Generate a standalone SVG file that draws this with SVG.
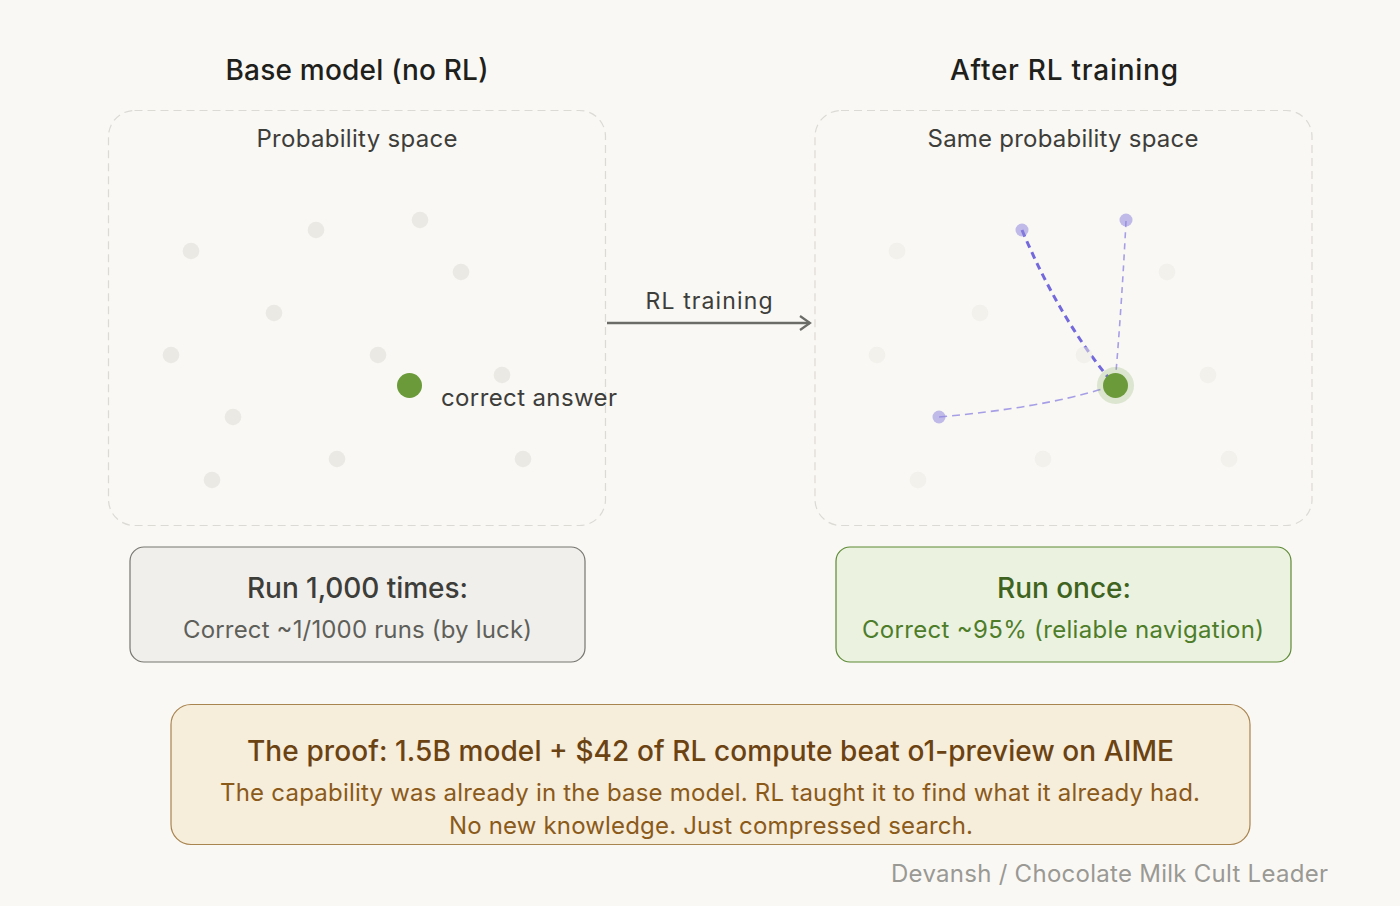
<svg xmlns="http://www.w3.org/2000/svg" width="1400" height="906" viewBox="0 0 1400 906">
<defs>
<style>
text{font-family:"Inter","Liberation Sans","Noto Sans",sans-serif;}
.title{font-size:28px;font-weight:500;fill:#1f1f1c;text-anchor:middle;}
.sub{font-size:24px;fill:#3d3d3a;text-anchor:middle;}
.panel{fill:none;stroke:#dcdad4;stroke-width:1.2;stroke-dasharray:8 5;}
.dot{fill:#ebe9e4;}
.dotf{fill:#ebe9e4;opacity:0.5;}
.pdot{fill:#8f86dc;opacity:0.55;}
</style>
<marker id="arr" viewBox="0 0 14 16" refX="12" refY="8" markerWidth="14" markerHeight="16" markerUnits="userSpaceOnUse" orient="auto">
<path d="M2,1 L12,8 L2,15" fill="none" stroke="#6b6b68" stroke-width="2.2"/>
</marker>
<marker id="parr" viewBox="0 0 10 10" refX="8" refY="5" markerWidth="9" markerHeight="9" markerUnits="userSpaceOnUse" orient="auto">
<path d="M1,1 L8,5 L1,9" fill="none" stroke="#7369dc" stroke-width="1.6"/>
</marker>
</defs>
<rect width="1400" height="906" fill="#f9f8f4"/>

<g id="left-panel">
<text class="title" x="357" y="80" textLength="263">Base model (no RL)</text>
<rect class="panel" x="108.5" y="110.5" width="497" height="415" rx="26"/>
<text class="sub" x="357" y="147" textLength="201">Probability space</text>
<circle class="dot" cx="191" cy="251" r="8.3"/>
<circle class="dot" cx="316" cy="230" r="8.3"/>
<circle class="dot" cx="420" cy="220" r="8.3"/>
<circle class="dot" cx="461" cy="272" r="8.3"/>
<circle class="dot" cx="274" cy="313" r="8.3"/>
<circle class="dot" cx="171" cy="355" r="8.3"/>
<circle class="dot" cx="378" cy="355" r="8.3"/>
<circle class="dot" cx="502" cy="375" r="8.3"/>
<circle class="dot" cx="233" cy="417" r="8.3"/>
<circle class="dot" cx="337" cy="459" r="8.3"/>
<circle class="dot" cx="523" cy="459" r="8.3"/>
<circle class="dot" cx="212" cy="480" r="8.3"/>
<circle cx="409.5" cy="385.5" r="12.5" fill="#6b9a3a"/>
<text x="441" y="406" font-size="24" fill="#3d3d3a" textLength="176">correct answer</text>
</g>

<g id="connectors">
<line x1="607" y1="323" x2="810" y2="323" stroke="#6b6b68" stroke-width="2.5" marker-end="url(#arr)"/>
<text x="709" y="309" font-size="23" fill="#3d3d3a" text-anchor="middle" textLength="127">RL training</text>
<path d="M1022,230 Q1060,320 1112,382" fill="none" stroke="#7369dc" stroke-width="3" stroke-dasharray="7 5" marker-end="url(#parr)"/>
<path d="M1126,221 Q1122,300 1116,372" fill="none" stroke="#a79fe6" stroke-width="1.6" stroke-dasharray="6 5"/>
<path d="M939,417 Q1040,408 1102,389" fill="none" stroke="#a79fe6" stroke-width="1.6" stroke-dasharray="8 5"/>
</g>

<g id="right-panel">
<text class="title" x="1064" y="80" textLength="228">After RL training</text>
<rect class="panel" x="815" y="110.5" width="497" height="415" rx="26"/>
<text class="sub" x="1063" y="147" textLength="271">Same probability space</text>
<circle class="dotf" cx="897" cy="251" r="8.3"/>
<circle class="dotf" cx="1167" cy="272" r="8.3"/>
<circle class="dotf" cx="980" cy="313" r="8.3"/>
<circle class="dotf" cx="877" cy="355" r="8.3"/>
<circle class="dotf" cx="1084" cy="355" r="8.3"/>
<circle class="dotf" cx="1208" cy="375" r="8.3"/>
<circle class="dotf" cx="1043" cy="459" r="8.3"/>
<circle class="dotf" cx="1229" cy="459" r="8.3"/>
<circle class="dotf" cx="918" cy="480" r="8.3"/>
<circle cx="1115.5" cy="385.5" r="18.5" fill="#6b9a3a" opacity="0.2"/>
<circle cx="1115.5" cy="385.5" r="12.5" fill="#6b9a3a"/>
<circle class="pdot" cx="1022" cy="230" r="6.5"/>
<circle class="pdot" cx="1126" cy="220" r="6.5"/>
<circle class="pdot" cx="939" cy="417" r="6.5"/>
</g>

<g id="base-result">
<rect x="130" y="547" width="455" height="115" rx="14" fill="#f0efeb" stroke="#77766f" stroke-width="1.2"/>
<text x="357.5" y="598" font-size="28" font-weight="500" fill="#3d3d3a" text-anchor="middle" textLength="221">Run 1,000 times:</text>
<text x="357.5" y="638" font-size="24" fill="#5f5f5a" text-anchor="middle" textLength="349">Correct ~1/1000 runs (by luck)</text>
</g>

<g id="rl-result">
<rect x="836" y="547" width="455" height="115" rx="14" fill="#ebf2e0" stroke="#5e8a35" stroke-width="1.2"/>
<text x="1064" y="598" font-size="28" font-weight="500" fill="#3e6320" text-anchor="middle" textLength="134">Run once:</text>
<text x="1063" y="638" font-size="24" fill="#4e7d2a" text-anchor="middle" textLength="402">Correct ~95% (reliable navigation)</text>
</g>

<g id="proof">
<rect x="171" y="704.5" width="1079" height="140" rx="20" fill="#f7eddb" stroke="#a8844f" stroke-width="1.2"/>
<text x="710.5" y="761" font-size="28" font-weight="500" fill="#6b4313" text-anchor="middle" textLength="927">The proof: 1.5B model + $42 of RL compute beat o1-preview on AIME</text>
<text x="710" y="801" font-size="24" fill="#8a5a1a" text-anchor="middle" textLength="980">The capability was already in the base model. RL taught it to find what it already had.</text>
<text x="711" y="834" font-size="24" fill="#8a5a1a" text-anchor="middle" textLength="524">No new knowledge. Just compressed search.</text>
</g>

<text x="1328" y="882" font-size="24" fill="#9a9994" text-anchor="end" textLength="437">Devansh / Chocolate Milk Cult Leader</text>
</svg>
